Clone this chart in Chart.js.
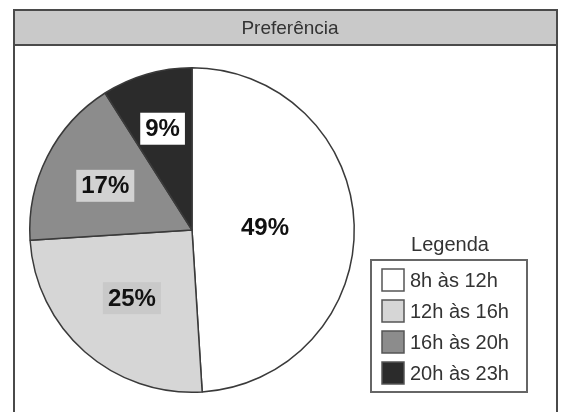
<!DOCTYPE html>
<html>
<head>
<meta charset="utf-8">
<script src="https://cdn.jsdelivr.net/npm/chart.js@4.4.0/dist/chart.umd.min.js"></script>
<style>
  html, body { margin: 0; padding: 0; background: #ffffff; }
  #wrap { width: 568px; height: 412px; position: relative; }
</style>
</head>
<body>
<div id="wrap"><canvas id="c" width="568" height="412"></canvas></div>
<script>
const categories = ['8h às 12h', '12h às 16h', '16h às 20h', '20h às 23h'];
const values = [49, 25, 17, 9];
const valueLabels = ['49%', '25%', '17%', '9%'];
const chartTitle = 'Preferência';
const legendTitle = 'Legenda';

const sliceColors = ['#ffffff', '#d6d6d6', '#8c8c8c', '#2b2b2b'];
const labelBoxColors = [null, '#c9c9c9', '#d2d2d2', '#ffffff'];
const labelRadius = [0.45, 0.56, 0.6, 0.65];

const decorPlugin = {
  id: 'decor',
  beforeDraw(chart) {
    const ctx = chart.ctx;
    ctx.save();
    ctx.fillStyle = '#ffffff';
    ctx.fillRect(0, 0, chart.width, chart.height);
    // title bar
    ctx.fillStyle = '#c9c9c9';
    ctx.fillRect(14, 10, 543, 35);
    ctx.strokeStyle = '#4a4a4a';
    ctx.lineWidth = 2;
    ctx.beginPath();
    ctx.moveTo(14, 420); ctx.lineTo(14, 10); ctx.lineTo(557, 10); ctx.lineTo(557, 420);
    ctx.stroke();
    ctx.beginPath();
    ctx.moveTo(14, 45); ctx.lineTo(557, 45);
    ctx.stroke();
    ctx.fillStyle = '#333333';
    ctx.font = '19px "Liberation Sans", Arial, sans-serif';
    ctx.textAlign = 'center';
    ctx.textBaseline = 'middle';
    ctx.fillText(chartTitle, 290, 29);
    ctx.restore();
  },
  afterDraw(chart) {
    const ctx = chart.ctx;
    const meta = chart.getDatasetMeta(0);
    ctx.save();
    // slice labels
    ctx.font = 'bold 24px "Liberation Sans", Arial, sans-serif';
    ctx.textAlign = 'center';
    ctx.textBaseline = 'middle';
    meta.data.forEach((arc, i) => {
      const p = arc.getProps(['x', 'y', 'startAngle', 'endAngle', 'outerRadius']);
      const mid = (p.startAngle + p.endAngle) / 2;
      const r = p.outerRadius * labelRadius[i];
      const x = p.x + Math.cos(mid) * r;
      const y = p.y + Math.sin(mid) * r;
      const t = valueLabels[i];
      const w = ctx.measureText(t).width;
      if (labelBoxColors[i]) {
        ctx.fillStyle = labelBoxColors[i];
        ctx.fillRect(x - w / 2 - 5, y - 16, w + 10, 32);
      }
      ctx.fillStyle = '#111111';
      ctx.fillText(t, x, y + 1);
    });
    // legend
    ctx.fillStyle = '#333333';
    ctx.font = '20px "Liberation Sans", Arial, sans-serif';
    ctx.textAlign = 'center';
    ctx.fillText(legendTitle, 450, 245);
    ctx.strokeStyle = '#666666';
    ctx.lineWidth = 2;
    ctx.strokeRect(371, 260, 156, 132);
    ctx.textAlign = 'left';
    categories.forEach((c, i) => {
      const cy = 280 + i * 31;
      ctx.fillStyle = sliceColors[i];
      ctx.fillRect(382, cy - 11, 22, 22);
      ctx.strokeStyle = '#555555';
      ctx.lineWidth = 1.5;
      ctx.strokeRect(382, cy - 11, 22, 22);
      ctx.fillStyle = '#333333';
      ctx.fillText(c, 410, cy + 1);
    });
    ctx.restore();
  }
};

new Chart(document.getElementById('c'), {
  type: 'pie',
  data: {
    labels: categories,
    datasets: [{
      data: values,
      backgroundColor: sliceColors,
      borderColor: '#3a3a3a',
      borderWidth: 1.5
    }]
  },
  options: {
    responsive: false,
    animation: false,
    layout: { padding: { left: 29, right: 213, top: 66, bottom: 18 } },
    plugins: {
      legend: { display: false },
      tooltip: { enabled: false },
      title: { display: false }
    }
  },
  plugins: [decorPlugin]
});
</script>
</body>
</html>
